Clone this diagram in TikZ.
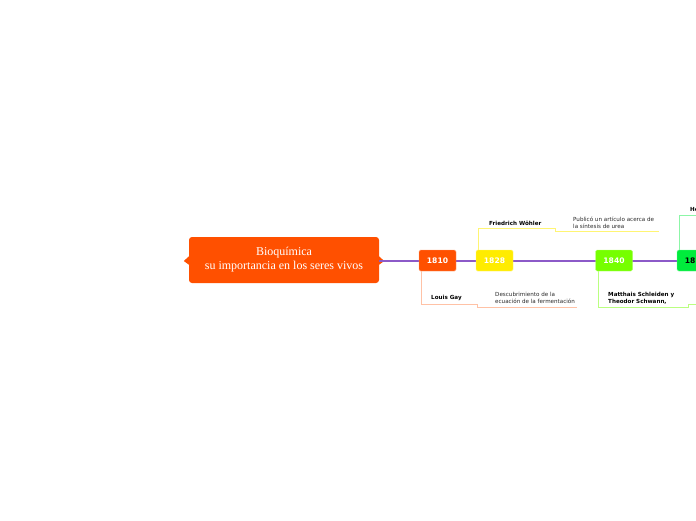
\documentclass[tikz,border=0pt]{standalone}
\usepackage{fontspec}
\setmainfont{Liberation Serif}
\newfontfamily\etiq{DejaVu Sans}
\usetikzlibrary{positioning, calc}
\definecolor{cTema}{RGB}{255, 80, 0}
\definecolor{c1810}{RGB}{255, 80, 0}
\definecolor{c1828}{RGB}{255, 236, 0}
\definecolor{c1840}{RGB}{118, 255, 0}
\definecolor{c18xx}{RGB}{0, 236, 60}
\definecolor{lila}{RGB}{140, 90, 200}
\definecolor{gristexto}{RGB}{40, 40, 40}
\tikzset{
  tema/.style={
    fill=cTema, rounded corners=3pt,
    minimum width=190pt,
    minimum height=46pt,
    text=white, align=center,
    font=\fontsize{12}{14}\selectfont
  },
  anio/.style={
    fill=#1, draw=#1!55!white, rounded corners=1.5pt,
    minimum width=37pt,
    minimum height=21pt,
    inner sep=0pt, text=white,
    font=\etiq\bfseries\fontsize{7.6}{9}\selectfont
  },
  rama/.style={draw=#1, line width=0.8pt},
  linea/.style={draw=lila, line width=2.2pt},
  nombre/.style={anchor=west, inner sep=0pt, align=left, text=black,
    font=\etiq\bfseries\fontsize{5.6}{7}\selectfont},
  detalle/.style={anchor=west, inner sep=0pt, align=left, text=gristexto,
    font=\etiq\fontsize{5.6}{6.8}\selectfont}
}

\begin{document}
\begin{tikzpicture}[x=1pt, y=-1pt]
\useasboundingbox (0,0) rectangle (696,520);
\clip (0,0) rectangle (696,520);

% Tema central con sus picos
\node[tema] (tema) at (284,260) {Bioquímica\\su importancia en los seres vivos};
\fill[cTema] ($(tema.west)+(0.5,-4)$) -- ($(tema.west)+(-5,1)$) -- ($(tema.west)+(0.5,5)$) -- cycle;
\fill[cTema] ($(tema.east)+(-0.5,-4)$) -- ($(tema.east)+(5,1)$) -- ($(tema.east)+(-0.5,5)$) -- cycle;

% Linea de tiempo
\coordinate (fin) at (696,261);
\draw[linea] (tema.east |- fin) -- (fin);

% Anios
\node[anio=c1810] (a1810) at (437.5,260.5) {1810};
\node[anio=c1828] (a1828) at (494.5,260.5) {1828};
\node[anio=c1840] (a1840) at (614,260.5) {1840};
\node[anio=c18xx, text=black] (a18xx) at (695.5,260.5) {18\phantom{00}};

% 1810: Louis Gay
\coordinate (gay1) at (477,304);
\coordinate (gay2) at (577,307);
\draw[rama=c1810!35!white] ([xshift=3pt]a1810.south west) |- (gay1) |- (gay2);
\node[nombre] (louis) at (431,298) {Louis Gay};
\node[detalle] (ferm) at (495,298) {Descubrimiento de la\\ecuación de la fermentación};

% 1828: Friedrich Wöhler
\coordinate (wo1) at (555,228);
\coordinate (wo2) at (659,231);
\draw[rama=c1828!55!white] ([xshift=3pt]a1828.north west) |- (wo1) |- (wo2);
\node[nombre] (wohler) at (489,223) {Friedrich Wöhler};
\node[detalle] (urea) at (573,222.5) {Publicó un artículo acerca de\\la síntesis de urea};

% 1840: Schleiden y Schwann
\coordinate (sch1) at (688,307);
\coordinate (sch2) at (697,304);
\draw[rama=c1840!50!white] ([xshift=3pt]a1840.south west) |- (sch1) |- (sch2);
\node[nombre] (schleiden) at (608,298.5) {Matthais Schleiden y\\Theodor Schwann,};

% 18..: rama superior
\coordinate (hx1) at (697,215);
\draw[rama=c18xx!45!white] ([xshift=3pt]a18xx.north west) |- (hx1);
\node[nombre] (hx) at (690,209) {He};

\end{tikzpicture}
\end{document}
